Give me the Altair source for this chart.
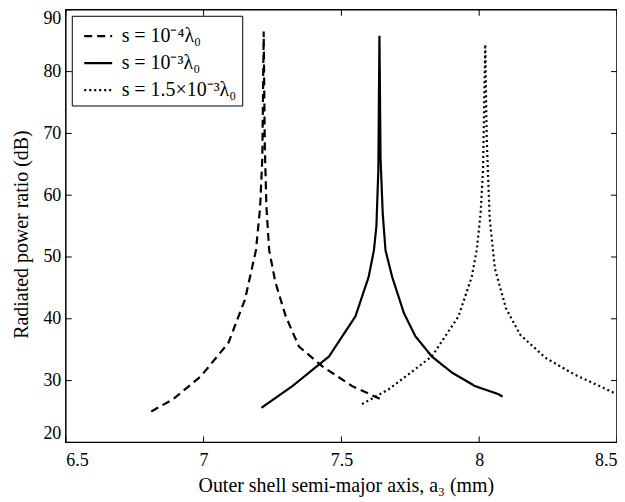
import altair as alt
import pandas as pd

series_names = ["s = 10⁻⁴λ₀", "s = 10⁻³λ₀", "s = 1.5×10⁻³λ₀"]

x_s1 = [6.81, 6.89, 6.99, 7.09, 7.15, 7.19, 7.205, 7.213, 7.218, 7.222, 7.228, 7.238, 7.26, 7.298, 7.346, 7.431, 7.539, 7.642]
y_s1 = [25.0, 27.0, 30.7, 36.1, 43.1, 51.1, 58.0, 66.0, 86.5, 68.0, 58.0, 51.1, 46.0, 40.4, 35.5, 32.3, 29.1, 27.0]

x_s2 = [7.21, 7.322, 7.455, 7.551, 7.599, 7.618, 7.627, 7.634, 7.638, 7.642, 7.650, 7.660, 7.684, 7.727, 7.768, 7.828, 7.901, 7.985, 8.07, 8.085]
y_s2 = [25.6, 29.1, 33.9, 40.4, 46.8, 51.1, 55.0, 64.0, 85.8, 66.0, 57.0, 51.1, 46.8, 40.9, 37.2, 33.9, 31.3, 29.1, 27.8, 27.4]

x_s3 = [7.575, 7.672, 7.828, 7.925, 7.973, 7.991, 8.005, 8.014, 8.022, 8.027, 8.038, 8.057, 8.097, 8.149, 8.24, 8.345, 8.49]
y_s3 = [26.2, 28.6, 33.9, 40.4, 46.8, 51.1, 57.0, 64.2, 84.4, 69.5, 56.2, 48.1, 41.7, 37.4, 33.7, 31.0, 28.0]

x_ticks = [6.5, 7, 7.5, 8, 8.5]
y_ticks = [20, 30, 40, 50, 60, 70, 80, 90]

rows = []
for name, xs, ys in zip(series_names, [x_s1, x_s2, x_s3], [y_s1, y_s2, y_s3]):
    for i, (xv, yv) in enumerate(zip(xs, ys)):
        rows.append({"series": name, "x": xv, "y": yv, "i": i})
df = pd.DataFrame(rows)

W, H = 553, 434
FONT = "Liberation Serif, Times New Roman, serif"

xscale = alt.Scale(domain=[6.5, 8.5], nice=False, zero=False)
yscale = alt.Scale(domain=[20, 90], nice=False, zero=False)

lines = alt.Chart(df).mark_line(color="black", strokeWidth=2.2).encode(
    x=alt.X("x:Q", scale=xscale,
            axis=alt.Axis(values=x_ticks, format="~g", title="Outer shell semi-major axis, a₃ (mm)",
                          titleY=49, titleX=281, titleBaseline="alphabetic", labelPadding=9,
                          labelFont=FONT, titleFont=FONT)),
    y=alt.Y("y:Q", scale=yscale,
            axis=alt.Axis(values=y_ticks, format="d", title="Radiated power ratio (dB)",
                          titleX=-44, titleY=H / 2 + 8, titleBaseline="middle", titleAlign="center",
                          labelPadding=5, labelFlush=True, labelFlushOffset=0,
                          labelFont=FONT, titleFont=FONT)),
    strokeDash=alt.StrokeDash("series:N",
                              scale=alt.Scale(domain=series_names, range=[[8, 5], [1, 0], [2, 3]]),
                              sort=series_names,
                              legend=alt.Legend(title=None, orient="none", legendX=6, legendY=6,
                                                labelFont=FONT, symbolOffset=6)),
    order="i:Q",
)

xt_df = pd.DataFrame({"v": x_ticks})
yt_df = pd.DataFrame({"v": y_ticks})

xt_bottom = alt.Chart(xt_df).mark_rule(color="black", strokeWidth=1).encode(
    x=alt.X("v:Q", scale=xscale), y=alt.value(H), y2=alt.value(H - 6))
xt_top = alt.Chart(xt_df).mark_rule(color="black", strokeWidth=1).encode(
    x=alt.X("v:Q", scale=xscale), y=alt.value(0), y2=alt.value(6))
yt_left = alt.Chart(yt_df).mark_rule(color="black", strokeWidth=1).encode(
    y=alt.Y("v:Q", scale=yscale), x=alt.value(0), x2=alt.value(6))
yt_right = alt.Chart(yt_df).mark_rule(color="black", strokeWidth=1).encode(
    y=alt.Y("v:Q", scale=yscale), x=alt.value(W), x2=alt.value(W - 6))

chart = alt.layer(xt_bottom, xt_top, yt_left, yt_right, lines).properties(
    width=W, height=H,
    autosize=alt.AutoSizeParams(type="none"),
    padding={"left": 58, "top": 1, "right": 0, "bottom": 54},
).configure(
    font=FONT
).configure_view(
    stroke="black", strokeWidth=1.5
).configure_axis(
    domain=False, grid=False, ticks=False, tickSize=0,
    labelFont=FONT, labelFontSize=18, labelColor="black",
    titleFont=FONT, titleFontSize=20, titleFontWeight="normal", titleColor="black",
).configure_legend(
    fillColor="white", strokeColor="black", padding=5,
    symbolType="stroke", symbolSize=784, symbolStrokeWidth=2.2, symbolStrokeColor="black",
    labelFont=FONT, labelFontSize=20, labelColor="black", labelOffset=8, rowPadding=1,
    labelLimit=400,
)

chart.save("out.html", embed_options={"renderer": "svg", "actions": False})
